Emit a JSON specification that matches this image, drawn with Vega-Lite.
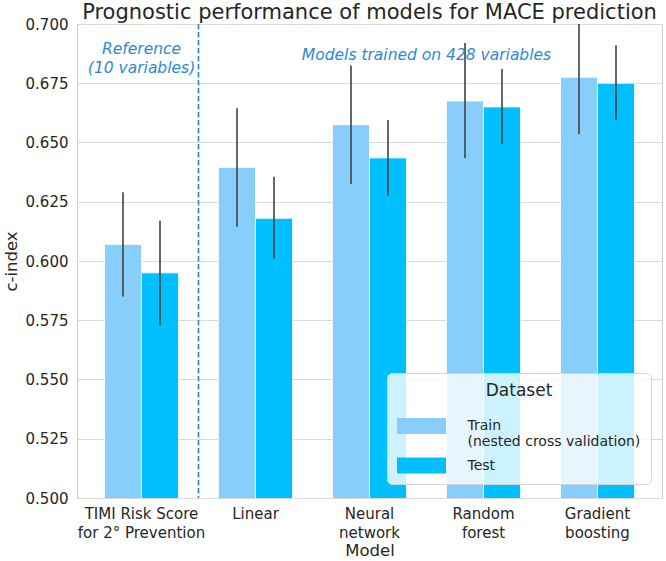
{
  "$schema": "https://vega.github.io/schema/vega-lite/v6.json",
  "width": 585,
  "height": 474,
  "autosize": {"type": "none"},
  "padding": {"left": 77, "top": 24, "right": 4, "bottom": 63},
  "background": "white",
  "config": {
    "font": "DejaVu Sans",
    "view": {"stroke": "#cccccc", "strokeWidth": 1},
    "axis": {
      "domain": false,
      "ticks": false,
      "gridColor": "#d9d9d9",
      "gridWidth": 1,
      "labelFont": "DejaVu Sans",
      "labelFontSize": 15,
      "labelColor": "#262626",
      "titleFont": "DejaVu Sans",
      "titleFontSize": 16.5,
      "titleFontWeight": "normal",
      "titleColor": "#262626"
    }
  },
  "title": {
    "text": "Prognostic performance of models for MACE prediction",
    "font": "DejaVu Sans",
    "fontSize": 21,
    "fontWeight": "normal",
    "color": "#262626",
    "anchor": "middle",
    "baseline": "bottom",
    "offset": 0,
    "dy": 27
  },
  "datasets": {
    "scores": [
      {"Model": "TIMI Risk Score for 2° Prevention", "Dataset": "Train", "cindex": 0.607, "lo": 0.585, "hi": 0.629},
      {"Model": "TIMI Risk Score for 2° Prevention", "Dataset": "Test", "cindex": 0.595, "lo": 0.573, "hi": 0.617},
      {"Model": "Linear", "Dataset": "Train", "cindex": 0.6395, "lo": 0.6145, "hi": 0.6645},
      {"Model": "Linear", "Dataset": "Test", "cindex": 0.618, "lo": 0.601, "hi": 0.6355},
      {"Model": "Neural network", "Dataset": "Train", "cindex": 0.6575, "lo": 0.6325, "hi": 0.6825},
      {"Model": "Neural network", "Dataset": "Test", "cindex": 0.6435, "lo": 0.6275, "hi": 0.6595},
      {"Model": "Random forest", "Dataset": "Train", "cindex": 0.6675, "lo": 0.6435, "hi": 0.692},
      {"Model": "Random forest", "Dataset": "Test", "cindex": 0.665, "lo": 0.6495, "hi": 0.681},
      {"Model": "Gradient boosting", "Dataset": "Train", "cindex": 0.6775, "lo": 0.6535, "hi": 0.7},
      {"Model": "Gradient boosting", "Dataset": "Test", "cindex": 0.675, "lo": 0.6595, "hi": 0.691}
    ],
    "notes": [
      {"kind": "divider", "Model": "Linear"},
      {"kind": "reference", "Model": "TIMI Risk Score for 2° Prevention", "cindex": 0.6895, "text": "Reference\n(10 variables)"},
      {"kind": "models", "Model": "Random forest", "cindex": 0.6868, "text": "Models trained on 428 variables"}
    ]
  },
  "layer": [
    {
      "data": {"name": "scores"},
      "mark": {"type": "bar", "clip": true, "stroke": "white", "strokeWidth": 0.8},
      "encoding": {
        "x": {
          "field": "Model",
          "type": "nominal",
          "scale": {
            "domain": ["TIMI Risk Score for 2° Prevention", "Linear", "Neural network", "Random forest", "Gradient boosting"],
            "paddingInner": 0,
            "paddingOuter": 0.0658
          },
          "axis": {
            "title": "Model",
            "labelAngle": 0,
            "labelPadding": 8,
            "titlePadding": 2,
            "bandPosition": 0.5,
            "labelLineHeight": 19,
            "labelExpr": "datum.value == 'TIMI Risk Score for 2° Prevention' ? ['TIMI Risk Score', 'for 2° Prevention'] : split(datum.value, ' ')"
          }
        },
        "xOffset": {
          "field": "Dataset",
          "type": "nominal",
          "scale": {"domain": ["Train", "Test"], "paddingInner": 0, "paddingOuter": 0.54}
        },
        "y": {
          "field": "cindex",
          "type": "quantitative",
          "scale": {"domain": [0.5, 0.7], "nice": false, "zero": false},
          "axis": {
            "title": "c-index",
            "values": [0.5, 0.525, 0.55, 0.575, 0.6, 0.625, 0.65, 0.675, 0.7],
            "format": ".3f",
            "labelPadding": 9,
            "titlePadding": 6
          }
        },
        "color": {
          "field": "Dataset",
          "type": "nominal",
          "scale": {"domain": ["Train", "Test"], "range": ["#87cefa", "#00bfff"]},
          "legend": {
            "title": "Dataset",
            "orient": "none",
            "legendX": 310,
            "legendY": 349,
            "titleFontSize": 17,
            "titleFont": "DejaVu Sans",
            "titleFontWeight": "normal",
            "titleColor": "#262626",
            "titleAnchor": "middle",
            "titlePadding": 18,
            "labelFont": "DejaVu Sans",
            "labelFontSize": 14,
            "labelColor": "#262626",
            "labelOffset": 38,
            "labelLimit": 400,
            "labelExpr": "datum.label == 'Train' ? ['Train', '(nested cross validation)'] : datum.label",
            "symbolType": "M-3.0625,-1H3.0625V1H-3.0625Z",
            "symbolSize": 256,
            "symbolOffset": 16.5,
            "symbolStrokeWidth": 0,
            "rowPadding": 8.5,
            "fillColor": "rgba(255,255,255,0.8)",
            "strokeColor": "#d6d6d6",
            "cornerRadius": 5,
            "padding": 10
          }
        }
      }
    },
    {
      "data": {"name": "scores"},
      "mark": {"type": "rule", "color": "#424242", "strokeWidth": 1.6, "clip": true},
      "encoding": {
        "x": {"field": "Model", "type": "nominal"},
        "xOffset": {"field": "Dataset", "type": "nominal"},
        "y": {"field": "lo", "type": "quantitative"},
        "y2": {"field": "hi"}
      }
    },
    {
      "data": {"name": "notes"},
      "transform": [{"filter": "datum.kind == 'divider'"}],
      "mark": {"type": "rule", "color": "#2b86d4", "strokeWidth": 1.6, "strokeDash": [5.5, 2.5]},
      "encoding": {
        "x": {"field": "Model", "type": "nominal", "bandPosition": 0}
      }
    },
    {
      "data": {"name": "notes"},
      "transform": [{"filter": "datum.kind == 'reference'"}],
      "mark": {"type": "text", "color": "#2b8ad8", "font": "DejaVu Sans", "fontSize": 15.5, "fontStyle": "italic", "align": "center", "baseline": "middle", "lineBreak": "\n", "lineHeight": 19},
      "encoding": {
        "x": {"field": "Model", "type": "nominal", "bandPosition": 0.5},
        "y": {"field": "cindex", "type": "quantitative"},
        "text": {"field": "text"}
      }
    },
    {
      "data": {"name": "notes"},
      "transform": [{"filter": "datum.kind == 'models'"}],
      "mark": {"type": "text", "color": "#2b8ad8", "font": "DejaVu Sans", "fontSize": 15.5, "fontStyle": "italic", "align": "center", "baseline": "middle"},
      "encoding": {
        "x": {"field": "Model", "type": "nominal", "bandPosition": 0},
        "y": {"field": "cindex", "type": "quantitative"},
        "text": {"field": "text"}
      }
    }
  ]
}
